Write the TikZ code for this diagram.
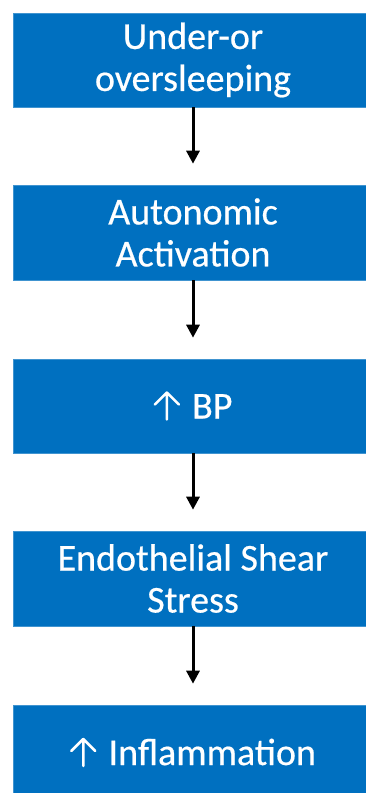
\documentclass[tikz,border=0pt]{standalone}
\usepackage{fontspec}
\setmainfont[FakeBold=0.5]{Carlito}
\usetikzlibrary{arrows.meta}
\definecolor{boxblue}{HTML}{0070C0}
% thin upward arrow with an open chevron head, sized to the cap height
\newcommand{\uparr}{\tikz[baseline=0pt,x=1pt,y=1pt]{%
  \draw[white, line width=2.6pt, line cap=round, line join=round]
    (13,-1) -- (13,26) (1,14) -- (13,26) -- (25,14);}}
\begin{document}
\begin{tikzpicture}[x=1pt,y=1pt,
  stepbox/.style={fill=boxblue, draw=boxblue!75!white, line width=0.6pt,
    minimum width=360pt, inner sep=0pt, text=white, align=center,
    font=\fontsize{38}{42}\selectfont},
  flow/.style={line width=3pt, -{Triangle[length=13pt,width=13pt]}}]
  \useasboundingbox (0,0) rectangle (366,-793);
  \clip (0,0) rectangle (366,-793);
  \fill[white] (0,0) rectangle (366,-793);
  \node[stepbox, minimum height=94pt] (b1) at (193,-60) {Under-or\\oversleeping};
  \node[stepbox, minimum height=95pt] (b2) at (193,-232.5) {Autonomic\\Activation};
  \node[stepbox, minimum height=94pt] (b3) at (193,-406) {\uparr\hspace{12pt}BP};
  \node[stepbox, minimum height=95pt] (b4) at (193,-578.5) {Endothelial Shear\\Stress};
  \node[stepbox, minimum height=95pt] (b5) at (193,-752.5) {\uparr\hspace{12pt}Inflammation};
  \draw[flow] (b1.south) -- ([yshift=21pt]b2.north);
  \draw[flow] (b2.south) -- ([yshift=21pt]b3.north);
  \draw[flow] (b3.south) -- ([yshift=21pt]b4.north);
  \draw[flow] (b4.south) -- ([yshift=21pt]b5.north);
\end{tikzpicture}
\end{document}
